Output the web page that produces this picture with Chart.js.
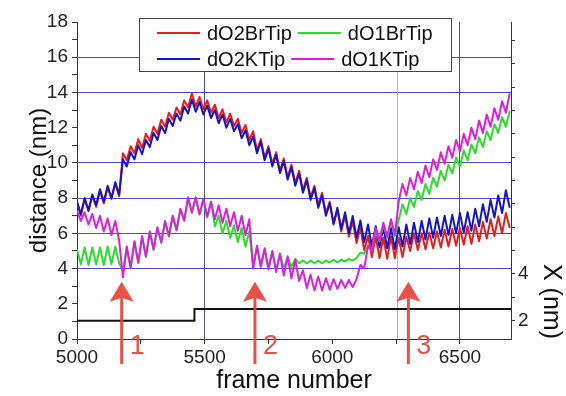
<!DOCTYPE html>
<html>
<head>
<meta charset="utf-8">
<script src="https://cdn.jsdelivr.net/npm/chart.js@4.4.1/dist/chart.umd.min.js"></script>
<style>
  html, body { margin: 0; padding: 0; background: #fff; }
  canvas { display: block; }
</style>
</head>
<body>
<canvas id="chart" width="566" height="396"></canvas>
<script>
// frames are sampled every 15 frames, starting at 5000 (one tooth = 2 samples)
const frameStart = 5000;
const frameStep = 15;

const red = [
  7.75, 7.0, 7.95, 7.25, 8.15, 7.5, 8.4, 7.7, 8.6, 7.95, 8.85, 8.1,
  10.55, 10.15, 10.95, 10.55, 11.35, 10.85, 11.65, 11.25, 12.05, 11.65, 12.45, 12.05, 12.85, 12.45, 13.15, 12.75, 13.55, 13.15, 13.95,
  13.2, 13.75, 13.05, 13.55, 12.85, 13.3, 12.55, 13.05, 12.3, 12.8, 12.1, 12.5, 11.7, 12.15, 11.3, 11.8,
  10.7, 11.35, 10.3, 10.95, 9.95, 10.6, 9.57, 10.25, 9.2, 9.9, 8.85, 9.55, 8.45, 9.15, 8.05, 8.7, 7.6, 8.3, 7.15, 7.8,
  6.5, 7.35, 6.1, 7.0, 5.8, 6.7, 5.45, 6.35, 5.05,
  5.85, 4.65, 5.8, 4.6, 5.75, 4.55, 5.8, 4.6, 5.75, 4.65,
  5.8, 5.0, 6.0, 5.05, 6.0, 5.1, 6.05, 5.15, 6.1, 5.2, 6.2, 5.25, 6.25, 5.3, 6.3, 5.35, 6.4, 5.4, 6.5, 5.55, 6.65, 5.7, 6.8, 5.85, 6.95, 6.0, 7.15, 6.3
];

const green = [
  5.1, 4.25, 5.2, 4.2, 5.2, 4.25, 5.2, 4.2, 5.25, 4.25, 5.25, 4.3,
  3.9,
  5.2, 4.0, 5.5, 4.3, 5.8, 4.65, 6.05, 5.05, 6.3, 5.45, 6.65, 5.8, 6.95, 6.15, 7.35, 6.7, 8.0, 7.15, 8.0, 7.05, 7.9, 6.9, 7.75,
  6.4, 7.0, 6.0, 6.7, 5.75, 6.45, 5.5, 6.3, 5.25, 6.1, 4.1,
  5.25, 4.1, 5.1, 4.0, 4.95, 3.95, 4.8, 4.0, 4.65, 4.1, 4.55,
  4.3, 4.45, 4.3, 4.45, 4.3, 4.45, 4.3, 4.45, 4.35, 4.5, 4.35, 4.5, 4.4, 4.55, 4.45, 4.6,
  4.9, 4.85, 5.25, 5.0, 6.2, 5.55, 6.5, 5.75, 6.7, 5.85,
  6.75, 7.65, 7.1, 8.0, 7.5, 8.4, 7.9, 8.8, 8.25, 9.15, 8.65, 9.55, 9.0, 9.9, 9.4, 10.3, 9.8, 10.7, 10.15, 11.05, 10.55, 11.45, 10.9, 11.8, 11.3, 12.2, 11.7, 12.6, 12.05, 12.95
];

const blue = [
  7.8, 7.1, 8.0, 7.3, 8.2, 7.6, 8.5, 7.8, 8.7, 8.0, 8.9, 8.2,
  10.2, 9.8, 10.6, 10.2, 11.0, 10.5, 11.3, 10.9, 11.7, 11.3, 12.1, 11.7, 12.5, 12.1, 12.8, 12.4, 13.2, 12.8, 13.6,
  12.9, 13.45, 12.75, 13.25, 12.55, 13.0, 12.25, 12.75, 12.0, 12.5, 11.8,
  12.2, 11.4, 11.85, 11.0, 11.5, 10.55, 11.2, 10.15,
  10.8, 9.8, 10.45, 9.42, 10.1, 9.05, 9.75, 8.7, 9.4,
  8.3, 9.0, 7.9, 8.57, 7.45, 8.15, 7.0, 7.7,
  6.55, 7.45, 6.25, 7.2, 6.0, 6.98, 5.75, 6.73, 5.5, 6.5,
  5.25, 6.4, 5.2, 6.35, 5.15, 6.3, 5.1,
  6.35, 5.25, 6.5, 5.4, 6.6, 5.5, 6.7, 5.65, 6.85,
  5.75, 6.9, 5.85, 7.0, 5.9, 7.05, 6.0, 7.15, 6.05, 7.2,
  6.15, 7.4, 6.4, 7.65, 6.65, 7.9, 6.9, 8.15, 7.15, 8.45, 7.45
];

const magenta = [
  7.3, 6.7, 7.2, 6.5, 7.1, 6.3, 7.0, 6.1, 6.85, 5.9, 6.7, 5.6,
  3.5,
  5.25, 4.05, 5.55, 4.35, 5.85, 4.7, 6.1, 5.1, 6.35, 5.5, 6.7, 5.85, 7.0, 6.2, 7.4, 6.75, 8.05, 7.2,
  8.05, 7.1, 7.95, 6.95, 7.8, 6.8, 7.6, 6.6, 7.4, 6.4, 7.2, 6.15, 7.0, 5.9, 6.8,
  4.0,
  5.3, 4.1, 5.15, 3.95, 5.0, 3.8, 4.85, 3.6, 4.7, 3.45, 4.5, 3.3,
  3.9, 2.9, 3.65, 2.75, 3.55, 2.75, 3.45, 2.8, 3.4, 2.85, 3.35, 2.9, 3.35, 2.95, 3.4,
  4.2, 4.0, 5.3, 5.0, 6.3, 5.6, 6.6, 5.8, 6.8, 5.9,
  7.8, 8.8, 8.15, 9.15, 8.5, 9.5, 8.85, 9.85, 9.2, 10.2, 9.6, 10.6, 9.95, 10.95, 10.3, 11.3, 10.65, 11.65, 11.0, 12.0, 11.35, 12.4, 11.7, 12.75, 12.05, 13.1, 12.45, 13.5, 12.85, 13.95
];

// X (nm), right axis, step trace
const stepFrames = [5000, 5460, 6700];
const stepValues = [2.0, 2.5, 2.5];

// annotations
const markerFrame = 6252;
const arrowFrames = [5175, 5697, 6298];
const arrowLabels = ['1', '2', '3'];
const arrowTip = 3.25;

// ticks / grid
const xTickValues = [5000, 5250, 5500, 5750, 6000, 6250, 6500];
const xTickLabels = [5000, 5500, 6000, 6500];
const xGridFrames = [5500, 6500];
const yTickValues = [0, 1, 2, 3, 4, 5, 6, 7, 8, 9, 10, 11, 12, 13, 14, 15, 16, 17, 18];
const yTickLabels = [0, 2, 4, 6, 8, 10, 12, 14, 16, 18];
const yGridValues = [4, 6, 8, 10, 14, 16];
const y1TickValues = [2, 3, 4, 5, 6, 7, 8, 9, 10, 11, 12, 13, 14];
const y1TickLabels = [2, 4];

const FONT = '"Liberation Sans", Arial, sans-serif';
const gridColor = 'rgba(45, 45, 165, 0.85)';
const axisColor = '#333';
const arrowColor = 'rgba(230, 66, 54, 0.92)';

Chart.defaults.font.family = FONT;

const frames = red.map((_, i) => frameStart + i * frameStep);
const toPoints = vals => vals.map((v, i) => ({x: frames[i], y: v}));
const setTicks = values => scale => { scale.ticks = values.map(v => ({value: v})); };

const series = [
    {label: 'dO2BrTip', values: red, color: 'rgb(236, 28, 28)', order: 3},
    {label: 'dO1BrTip', values: green, color: 'rgb(40, 222, 40)', order: 1},
    {label: 'dO2KTip', values: blue, color: 'rgb(20, 20, 200)', order: 2},
    {label: 'dO1KTip', values: magenta, color: 'rgb(222, 30, 222)', order: 0},
];

const datasets = series.map(s => ({
    label: s.label,
    data: toPoints(s.values),
    borderColor: s.color,
    borderWidth: 2,
    borderJoinStyle: 'round',
    pointRadius: 0,
    tension: 0,
    order: s.order,
    yAxisID: 'y',
}));

datasets.push({
    label: 'X',
    data: stepFrames.map((f, i) => ({x: f, y: stepValues[i]})),
    borderColor: '#111',
    borderWidth: 2,
    pointRadius: 0,
    stepped: true,
    order: 5,
    yAxisID: 'y1',
});

const markerLine = {
    id: 'markerLine',
    beforeDatasetsDraw(chart) {
        const {ctx, chartArea, scales} = chart;
        const x = Math.round(scales.x.getPixelForValue(markerFrame)) + 0.5;
        ctx.save();
        ctx.strokeStyle = 'rgb(120, 225, 120)';
        ctx.lineWidth = 1;
        ctx.beginPath();
        ctx.moveTo(x, chartArea.top);
        ctx.lineTo(x, chartArea.bottom);
        ctx.stroke();
        ctx.restore();
    }
};

const boxLegend = {
    id: 'boxLegend',
    afterDraw(chart) {
        const {ctx} = chart;
        const ds = chart.data.datasets;
        const rows = [[0, 1], [2, 3]];
        ctx.save();
        ctx.fillStyle = '#fff';
        ctx.fillRect(139.5, 18.5, 312, 53);
        ctx.strokeStyle = '#444';
        ctx.lineWidth = 1;
        ctx.strokeRect(139.5, 18.5, 312, 53);
        ctx.font = '20px ' + FONT;
        ctx.textBaseline = 'middle';
        rows.forEach((row, r) => {
            const y = 33 + r * 26;
            let x = 157;
            row.forEach(i => {
                ctx.strokeStyle = ds[i].borderColor;
                ctx.lineWidth = 2;
                ctx.beginPath();
                ctx.moveTo(x, y);
                ctx.lineTo(x + 43, y);
                ctx.stroke();
                x += 50;
                ctx.fillStyle = '#111';
                ctx.fillText(ds[i].label, x, y + 1);
                x += ctx.measureText(ds[i].label).width + 6;
            });
        });
        ctx.restore();
    }
};

const arrows = {
    id: 'arrows',
    afterDraw(chart) {
        const {ctx, chartArea, scales} = chart;
        const tip = scales.y.getPixelForValue(arrowTip);
        ctx.save();
        arrowFrames.forEach((f, i) => {
            const x = scales.x.getPixelForValue(f);
            ctx.strokeStyle = arrowColor;
            ctx.fillStyle = arrowColor;
            ctx.lineWidth = 3;
            ctx.beginPath();
            ctx.moveTo(x, tip + 16);
            ctx.lineTo(x, chartArea.bottom + 25);
            ctx.stroke();
            ctx.beginPath();
            ctx.moveTo(x, tip);
            ctx.lineTo(x - 12, tip + 20);
            ctx.lineTo(x, tip + 16);
            ctx.lineTo(x + 12, tip + 20);
            ctx.closePath();
            ctx.fill();
            ctx.font = '27px ' + FONT;
            ctx.textBaseline = 'middle';
            ctx.textAlign = 'left';
            ctx.fillText(arrowLabels[i], x + 8, chartArea.bottom + 8);
        });
        ctx.restore();
    }
};

const tickFont = {family: FONT, size: 19};

new Chart(document.getElementById('chart'), {
    type: 'line',
    data: {datasets},
    options: {
        responsive: false,
        animation: false,
        devicePixelRatio: 1,
        layout: {padding: {left: 0, right: 0, top: 22, bottom: 0}},
        plugins: {
            legend: {display: false},
            tooltip: {enabled: false},
        },
        scales: {
            x: {
                type: 'linear',
                min: 5000,
                max: 6700,
                border: {color: axisColor, width: 1},
                grid: {
                    color: c => (c.tick && xGridFrames.includes(c.tick.value)) ? gridColor : 'transparent',
                    tickColor: axisColor,
                    tickLength: 5,
                },
                afterBuildTicks: setTicks(xTickValues),
                ticks: {
                    autoSkip: false,
                    maxRotation: 0,
                    padding: 2,
                    color: '#222',
                    font: tickFont,
                    callback: v => xTickLabels.includes(v) ? String(v) : '',
                },
                title: {
                    display: true,
                    text: 'frame number',
                    color: '#111',
                    font: {family: FONT, size: 25},
                    padding: {top: 0, bottom: 0},
                },
                afterFit: s => { s.height = 57; },
            },
            y: {
                position: 'left',
                min: 0,
                max: 18,
                border: {color: axisColor, width: 1},
                grid: {
                    color: c => (c.tick && yGridValues.includes(c.tick.value)) ? gridColor : 'transparent',
                    tickColor: axisColor,
                    tickLength: 5,
                },
                afterBuildTicks: setTicks(yTickValues),
                ticks: {
                    autoSkip: false,
                    padding: 4,
                    color: '#222',
                    font: tickFont,
                    callback: v => yTickLabels.includes(v) ? String(v) : '',
                },
                title: {
                    display: true,
                    text: 'distance (nm)',
                    color: '#111',
                    font: {family: FONT, size: 24},
                    padding: {top: 25, bottom: 0},
                },
                afterFit: s => { s.width = 77; },
            },
            y1: {
                position: 'right',
                min: 1.216,
                max: 14.79,
                border: {color: axisColor, width: 1},
                grid: {
                    drawOnChartArea: false,
                    tickColor: axisColor,
                    tickLength: 4,
                },
                afterBuildTicks: setTicks(y1TickValues),
                ticks: {
                    autoSkip: false,
                    padding: 3,
                    color: '#222',
                    font: tickFont,
                    callback: v => y1TickLabels.includes(v) ? String(v) : '',
                },
                title: {
                    display: true,
                    text: 'X (nm)',
                    align: 'start',
                    color: '#111',
                    font: {family: FONT, size: 25},
                    padding: {top: 0, bottom: 5},
                },
                afterFit: s => { s.width = 55; },
            },
        },
    },
    plugins: [markerLine, boxLegend, arrows],
});
</script>
</body>
</html>
